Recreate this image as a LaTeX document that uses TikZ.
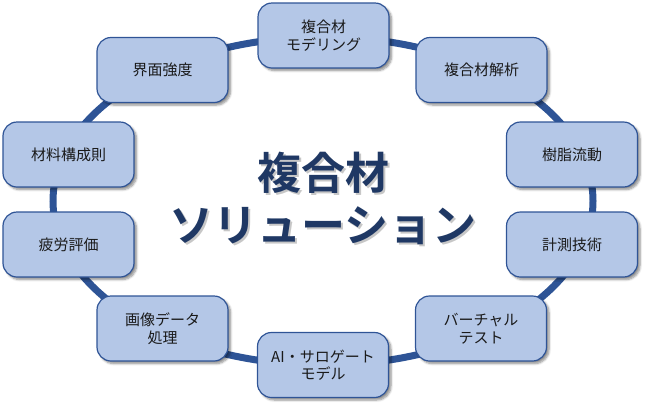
\documentclass[tikz,border=0pt]{standalone}
\usepackage{fontspec}
\setmainfont{Noto Sans CJK JP}[BoldFont={Noto Sans CJK JP Bold}]
\usetikzlibrary{shadows.blur}
\definecolor{boxfill}{HTML}{B4C7E7}
\definecolor{boxline}{HTML}{2F5496}
\definecolor{ringcol}{HTML}{2E5496}
\definecolor{titlecol}{HTML}{1F3864}
\definecolor{txt}{HTML}{1A1A1A}
\begin{document}
\begin{tikzpicture}[x=1pt,y=-1pt,
  box/.style={draw=boxline, line width=1.2pt, fill=boxfill, rounded corners=14pt,
    minimum width=131pt, minimum height=65pt, align=center, inner sep=0pt,
    font=\fontsize{15}{17.5}\selectfont, text=txt,
    blur shadow={shadow xshift=2.5pt, shadow yshift=-2.5pt, shadow blur steps=6, shadow opacity=45}},
  ring/.style={draw=ringcol, line width=7pt},
  title/.style={align=center, inner sep=0pt, font=\bfseries\fontsize{44}{52}\selectfont}]
\useasboundingbox (0,0) rectangle (650,408);
\path[ring] (323,201) ellipse [x radius=270, y radius=164];
\node[box] (n1) at (323.5,35.5) {複合材\\モデリング};
\node[box] (n2) at (481.5,70) {複合材解析};
\node[box] (n3) at (572,154.5) {樹脂流動};
\node[box] (n4) at (572,244.5) {計測技術};
\node[box] (n5) at (481,328.5) {バーチャル\\テスト};
\node[box] (n6) at (323,365) {AI・サロゲート\\モデル};
\node[box] (n7) at (162.5,328.5) {画像データ\\処理};
\node[box] (n8) at (68.5,244.5) {疲労評価};
\node[box] (n9) at (68.5,154.5) {材料構成則};
\node[box] (n10) at (162.5,70) {界面強度};
\node[title, text=black, opacity=0.22] (tsh) at (325,200) {複合材\\ソリューション};
\node[title, text=titlecol] (t) at (323,198) {複合材\\ソリューション};
\end{tikzpicture}
\end{document}
